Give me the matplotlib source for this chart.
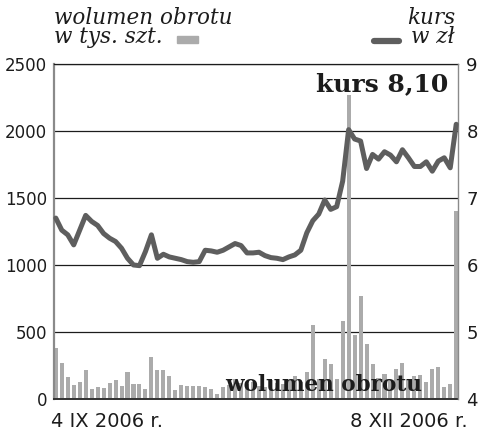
import numpy as np
import matplotlib.pyplot as plt
from matplotlib.patches import Rectangle
from matplotlib.lines import Line2D

# wolumen obrotu (tys. szt.), one bar per session, 4 IX - 8 XII 2006
volume = [378, 268, 165, 108, 123, 220, 78, 93, 83, 118,
          145, 98, 205, 115, 115, 78, 310, 220, 215, 175,
          65, 108, 98, 95, 98, 88, 78, 40, 93, 105,
          150, 120, 110, 130, 100, 90, 140, 120, 110, 150,
          170, 130, 200, 550, 150, 295, 263, 150, 580, 2265,
          478, 770, 407, 260, 160, 190, 140, 225, 270, 150,
          170, 182, 130, 222, 238, 90, 114, 1405]

# kurs (zl)
kurs = [6.70, 6.52, 6.45, 6.30, 6.52, 6.74, 6.65, 6.59, 6.47, 6.40,
        6.35, 6.25, 6.10, 6.00, 5.99, 6.20, 6.45, 6.10, 6.16, 6.12,
        6.10, 6.08, 6.05, 6.04, 6.05, 6.22, 6.21, 6.19, 6.22, 6.27,
        6.32, 6.29, 6.18, 6.18, 6.19, 6.14, 6.11, 6.10, 6.08, 6.12,
        6.15, 6.22, 6.48, 6.66, 6.76, 6.97, 6.83, 6.87, 7.25, 8.02,
        7.88, 7.85, 7.44, 7.65, 7.58, 7.69, 7.64, 7.54, 7.72, 7.60,
        7.47, 7.47, 7.54, 7.40, 7.55, 7.60, 7.45, 8.10]

vol_ticks = [0, 500, 1000, 1500, 2000, 2500]
kurs_ticks = [4, 5, 6, 7, 8, 9]
start_label = '4 IX 2006 r.'
end_label = '8 XII 2006 r.'

BAR_GRAY = '#ababab'
LINE_GRAY = '#5e5e5e'
INK = '#1c1c1c'

days = np.arange(len(volume))

fig = plt.figure(figsize=(5, 4.37), dpi=100)
ax = fig.add_axes([0.108, 0.087, 0.808, 0.7666])

# bars
ax.bar(days, volume, width=0.68, color=BAR_GRAY, zorder=2)
ax.set_xlim(-0.3, len(days) - 0.7)
ax.set_ylim(0, 2500)
ax.set_yticks(vol_ticks)
ax.set_xticks([])
ax.grid(axis='y', color=INK, linewidth=0.9)
ax.set_axisbelow(True)
ax.tick_params(axis='y', length=0, pad=5, labelsize=12, labelcolor=INK)
ax.spines['left'].set_color('#8a8a8a')
ax.spines['left'].set_linewidth(1.6)
ax.spines['bottom'].set_color('#333333')
ax.spines['bottom'].set_linewidth(1.4)
ax.spines['top'].set_color(INK)
ax.spines['top'].set_linewidth(0.9)
ax.spines['right'].set_visible(False)

# kurs line
ax2 = ax.twinx()
ax2.plot(days, kurs, color=LINE_GRAY, linewidth=3.6,
         solid_joinstyle='round', solid_capstyle='round', clip_on=False, zorder=3)
ax2.set_ylim(4, 9)
ax2.set_yticks(kurs_ticks)
ax2.tick_params(axis='y', length=0, pad=6, labelsize=13, labelcolor=INK)
for s in ['left', 'top', 'bottom']:
    ax2.spines[s].set_visible(False)
ax2.spines['right'].set_color('#8a8a8a')
ax2.spines['right'].set_linewidth(1.0)

# header / legend (two-line labels as single texts)
hdr = dict(family='DejaVu Serif', style='italic', fontsize=15.5, color=INK,
           va='top', linespacing=0.82)
fig.text(54 / 500, 1 - 7 / 437, 'wolumen obrotu\nw tys. szt.', ha='left',
         multialignment='left', **hdr)
fig.text(455 / 500, 1 - 7 / 437, 'kurs\nw zł', ha='right',
         multialignment='right', **hdr)
fig.add_artist(Rectangle((177 / 500, 1 - 43 / 437), 21 / 500, 7 / 437,
                         transform=fig.transFigure, color=BAR_GRAY))
fig.add_artist(Line2D([374 / 500, 399 / 500], [1 - 41 / 437, 1 - 41 / 437],
                      transform=fig.transFigure, color=LINE_GRAY, linewidth=4.5,
                      solid_capstyle='round'))

# labels inside the plot
last = f"kurs {kurs[-1]:.2f}".replace('.', ',')
fig.text(448 / 500, 1 - 91 / 437, last, ha='right', va='baseline',
         family='DejaVu Serif', weight='bold', fontsize=18, color=INK, zorder=5)
fig.text(225 / 500, 1 - 391 / 437, 'wolumen obrotu', ha='left', va='baseline',
         family='DejaVu Serif', weight='bold', fontsize=15.5, color=INK, zorder=5)

# dates
fig.text(51 / 500, 1 - 426.7 / 437, start_label, fontsize=14, color=INK, va='baseline')
fig.text(468 / 500, 1 - 426.7 / 437, end_label, fontsize=14, color=INK,
         va='baseline', ha='right')

fig.savefig('out.png', dpi=100)
